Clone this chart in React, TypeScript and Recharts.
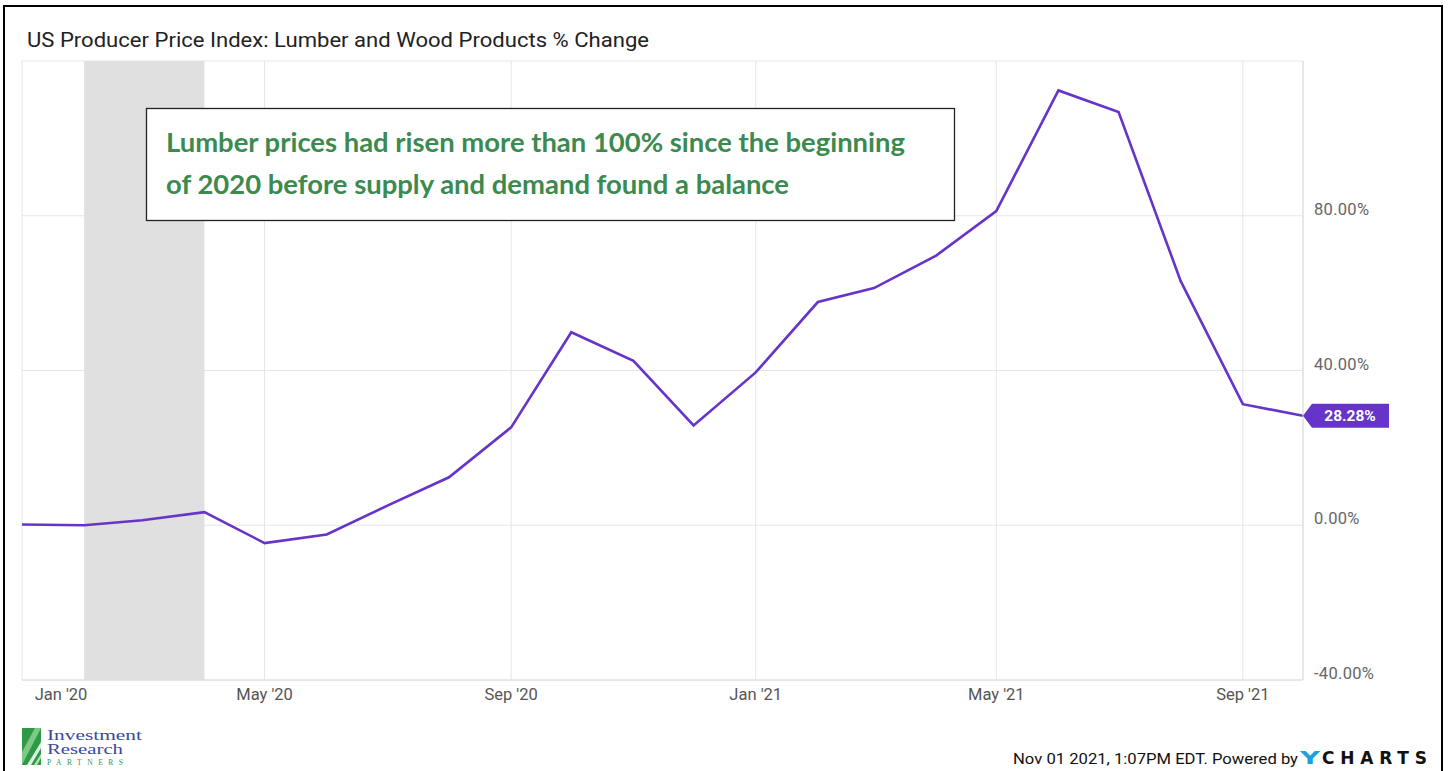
import React from 'react';
import { LineChart, Line, XAxis, YAxis, CartesianGrid, ReferenceArea, LabelList } from 'recharts';

const months = ['2020-01','2020-02','2020-03','2020-04','2020-05','2020-06','2020-07','2020-08','2020-09','2020-10','2020-11','2020-12','2021-01','2021-02','2021-03','2021-04','2021-05','2021-06','2021-07','2021-08','2021-09','2021-10'];
const values = [0.2, 0.0, 1.3, 3.4, -4.6, -2.4, 5.0, 12.4, 25.3, 49.9, 42.5, 25.8, 39.5, 57.7, 61.3, 69.7, 81.2, 112.4, 106.8, 63.1, 31.3, 28.28];
const tickMonths = ['2020-01','2020-05','2020-09','2021-01','2021-05','2021-09'];
const tickLabels = ["Jan '20", "May '20", "Sep '20", "Jan '21", "May '21", "Sep '21"];
const yTicks = [-40, 0, 40, 80, 120];
const yLabels = ['-40.00%', '0.00%', '40.00%', '80.00%', ''];
const recession = ['2020-02', '2020-04'];
const domainMonths = ['2020-01', '2021-10'];
const lastLabel = '28.28%';

const toTime = (m: string) => {
  const [y, mo] = m.split('-').map(Number);
  return Date.UTC(y, mo - 1, 1);
};

const data = months.map((m, i) => ({ t: toTime(m), v: values[i] }));
const xTicks = tickMonths.map(toTime);

const PURPLE = '#6634c8';

const XTick = (props: any) => {
  const { x, y, payload } = props;
  const idx = xTicks.indexOf(payload.value);
  const shift = idx === 0 ? 39 : 0;
  return (
    <text x={x + shift} y={y} dy={12} textAnchor="middle" fill="#555" fontSize={16.5} fontFamily="Roboto">
      {tickLabels[idx]}
    </text>
  );
};

const YTick = (props: any) => {
  const { x, y, payload } = props;
  const idx = yTicks.indexOf(payload.value);
  if (!yLabels[idx]) return null;
  return (
    <text x={x} y={y} dy={-1} textAnchor="start" fill="#666" fontSize={16.5} fontFamily="Roboto" letterSpacing={0.3}>
      {yLabels[idx]}
    </text>
  );
};

const Badge = (props: any) => {
  const { x, y, index } = props;
  if (index !== data.length - 1) return null;
  const px = Number(x), py = Number(y);
  return (
    <g>
      <polygon
        points={`${px},${py} ${px + 9},${py - 12} ${px + 86},${py - 12} ${px + 86},${py + 12} ${px + 9},${py + 12}`}
        fill={PURPLE}
      />
      <text x={px + 47} y={py + 5.5} textAnchor="middle" fill="#fff" fontSize={15.5} fontWeight="bold" fontFamily="Roboto">
        {lastLabel}
      </text>
    </g>
  );
};

export default function App() {
  return (
    <div style={{ position: 'fixed', left: 0, top: 0, width: 1448, height: 771, background: '#fff', overflow: 'hidden' }}>
      <div style={{ position: 'absolute', left: 3, top: 5, width: 1440, height: 820, border: '2px solid #000', boxSizing: 'border-box' }} />
      <div style={{ position: 'absolute', left: 0, top: 0 }}>
        <LineChart width={1448} height={771} data={data} margin={{ top: 61, right: 0, bottom: 61, left: 22 }}>
          <CartesianGrid stroke="#e6e6e6" vertical horizontal />
          <XAxis
            type="number"
            dataKey="t"
            domain={[toTime(domainMonths[0]), toTime(domainMonths[1])]}
            ticks={xTicks}
            interval={0}
            tick={<XTick />}
            tickLine={false}
            axisLine={{ stroke: '#dcdcdc' }}
            height={30}
            allowDataOverflow
          />
          <YAxis
            orientation="right"
            domain={[-40, 120]}
            ticks={yTicks}
            interval={0}
            tick={<YTick />}
            tickLine={false}
            axisLine={{ stroke: '#dcdcdc' }}
            width={145}
            tickMargin={5}
            allowDataOverflow
          />
          <ReferenceArea x1={toTime(recession[0])} x2={toTime(recession[1])} y1={-40} y2={120} fill="#e0e0e0" fillOpacity={1} stroke="none" />
          <Line type="linear" dataKey="v" stroke={PURPLE} strokeWidth={2.6} dot={false} isAnimationActive={false}>
            <LabelList dataKey="v" content={<Badge />} />
          </Line>
        </LineChart>
      </div>
      <svg width={1448} height={771} style={{ position: 'absolute', left: 0, top: 0, pointerEvents: 'none' }}>
        <text x={27} y={47} fontSize={21} fill="#222" fontFamily="Roboto" textLength={622} lengthAdjust="spacingAndGlyphs">
          US Producer Price Index: Lumber and Wood Products % Change
        </text>
        <rect x={146.5} y={108.5} width={808} height={112} fill="#fff" stroke="#222" strokeWidth={1.3} />
        <text x={166} y={152} fontSize={26} fontWeight="bold" fill="#3b8a4f" fontFamily="Lato" textLength={739} lengthAdjust="spacingAndGlyphs">
          Lumber prices had risen more than 100% since the beginning
        </text>
        <text x={166} y={194} fontSize={26} fontWeight="bold" fill="#3b8a4f" fontFamily="Lato" textLength={623} lengthAdjust="spacingAndGlyphs">
          of 2020 before supply and demand found a balance
        </text>
        <g>
          <rect x={22} y={728} width={19} height={37} fill="#2f9a45" />
          <path d="M22 765 L22 752 L35 728 L41 728 Z" fill="#7fc88a" />
          <path d="M27 765 L41 742 L41 748 L31 765 Z" fill="#ffffff" opacity={0.85} />
          <path d="M34 765 L41 754 L41 758 L37 765 Z" fill="#b9e0b9" />
          <text x={47} y={740} fontSize={14.5} fill="#3848a0" fontFamily="Liberation Serif" textLength={95} lengthAdjust="spacingAndGlyphs">Investment</text>
          <text x={47} y={754} fontSize={14.5} fill="#3848a0" fontFamily="Liberation Serif" textLength={76} lengthAdjust="spacingAndGlyphs">Research</text>
          <text x={47} y={765} fontSize={7.5} fill="#2f9a45" fontFamily="Liberation Serif" textLength={76} lengthAdjust="spacing">PARTNERS</text>
        </g>
        <text x={1013} y={763.5} fontSize={15} fill="#111" fontFamily="Roboto" textLength={285} lengthAdjust="spacingAndGlyphs">
          Nov 01 2021, 1:07PM EDT. Powered by
        </text>
        <text x={1300} y={764} fontSize={18} fontWeight="bold" fill="#1ea0de" fontFamily="DejaVu Sans" textLength={20} lengthAdjust="spacingAndGlyphs">Y</text>
        <text x={1322} y={764} fontSize={17} fontWeight="bold" fill="#111" fontFamily="DejaVu Sans" textLength={105} lengthAdjust="spacing">CHARTS</text>
      </svg>
    </div>
  );
}
